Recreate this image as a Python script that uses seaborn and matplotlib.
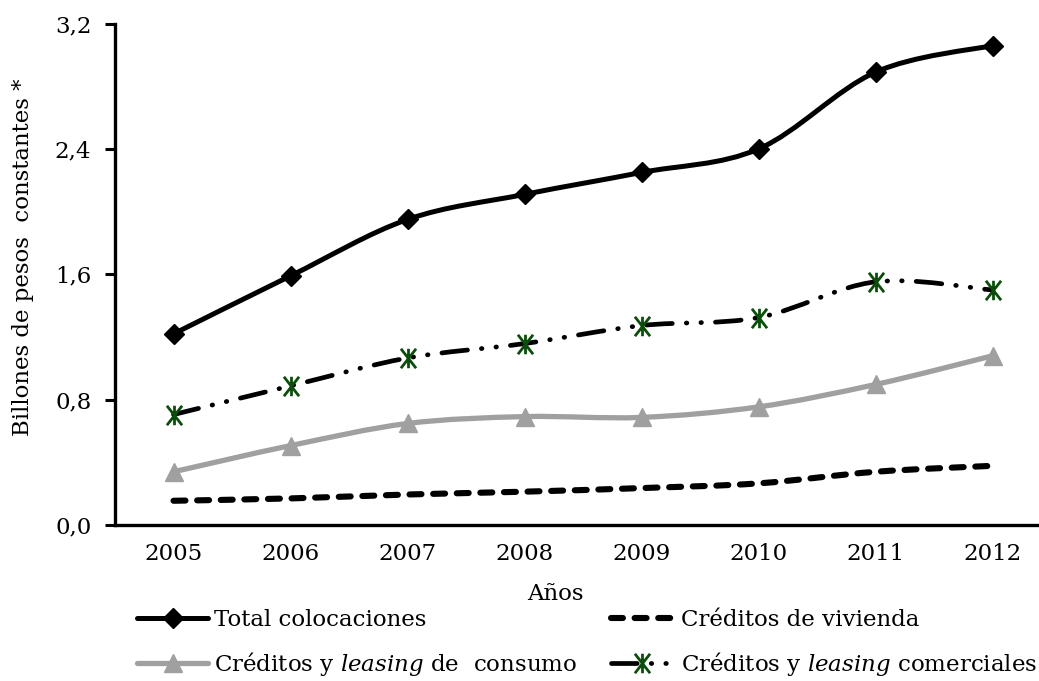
import numpy as np
import matplotlib
matplotlib.use('Agg')
import matplotlib.pyplot as plt
import seaborn as sns
from matplotlib.path import Path
from matplotlib.patches import PathPatch
from matplotlib.lines import Line2D
from matplotlib.ticker import FuncFormatter

# Data (billones de pesos constantes)
years = ['2005', '2006', '2007', '2008', '2009', '2010', '2011', '2012']
total = [1.22, 1.59, 1.95, 2.11, 2.25, 2.40, 2.89, 3.06]
vivienda = [0.155, 0.170, 0.195, 0.213, 0.236, 0.266, 0.340, 0.378]
consumo = [0.340, 0.507, 0.648, 0.692, 0.687, 0.754, 0.897, 1.080]
comerciales = [0.705, 0.888, 1.066, 1.158, 1.273, 1.324, 1.552, 1.500]
yticks = [0.0, 0.8, 1.6, 2.4, 3.2]

sns.set_style('white')
plt.rcParams['font.family'] = ['DejaVu Serif']
plt.rcParams['mathtext.fontset'] = 'dejavuserif'
plt.rcParams['lines.scale_dashes'] = False
plt.rcParams['text.color'] = 'black'
plt.rcParams['axes.labelcolor'] = 'black'
plt.rcParams['xtick.color'] = 'black'
plt.rcParams['ytick.color'] = 'black'
FS = 16.5

GREEN = '#0b4d0b'
GRAY = '#a0a0a0'

# asterisk marker like the excel "star"
star = Path([(0, -1), (0, 1), (-0.78, -1), (0.78, 1), (-0.78, 1), (0.78, -1)],
            [Path.MOVETO, Path.LINETO] * 3)

DASH_VIV = (0, (8.6, 8.4))
DASH_COM = (0, (18.5, 10.1, 0.4, 10.1, 0.4, 10.1))


def smooth_path(xs, ys):
    # excel-style smoothed line (cubic bezier through the points)
    pts = np.column_stack([xs, ys]).astype(float)
    n = len(pts)
    verts = [pts[0]]
    codes = [Path.MOVETO]
    for i in range(n - 1):
        p0 = pts[i - 1] if i > 0 else pts[i]
        p1, p2 = pts[i], pts[i + 1]
        p3 = pts[i + 2] if i + 2 < n else pts[i + 1]
        verts += [p1 + (p2 - p0) / 6, p2 - (p3 - p1) / 6, p2]
        codes += [Path.CURVE4] * 3
    return Path(verts, codes)


fig = plt.figure(figsize=(10.39, 6.81), dpi=100)
ax = fig.add_axes([0.1107, 0.229, 0.9009, 0.7364])
xpos = np.arange(len(years))

series = [
    (total, 'black', 3.6, '-', 'D', 10.5, 'black', 1.0),
    (vivienda, 'black', 4.4, DASH_VIV, None, 0, 'black', 0),
    (consumo, GRAY, 3.8, '-', '^', 13, GRAY, 1.0),
    (comerciales, 'black', 3.4, DASH_COM, star, 14, GREEN, 2.0),
]
for vals, col, lw, ls, mk, ms, mcol, mew in series:
    patch = PathPatch(smooth_path(xpos, vals), facecolor='none', edgecolor=col,
                      linewidth=lw, linestyle=ls, capstyle='round', joinstyle='round', zorder=2)
    ax.add_patch(patch)
    if mk is not None:
        sns.lineplot(x=xpos, y=vals, ax=ax, linestyle='none', marker=mk, markersize=ms,
                     color=mcol, markerfacecolor=mcol, markeredgecolor=mcol,
                     markeredgewidth=mew, zorder=3)

ax.set_xlim(-0.5, 7.5)
ax.set_ylim(0, 3.2)
ax.set_yticks(yticks)
ax.yaxis.set_major_formatter(FuncFormatter(lambda v, p: f'{v:.1f}'.replace('.', ',')))
ax.set_xticks(xpos)
ax.set_xticklabels(years)
ax.set_xticks(np.arange(-0.5, 7.6, 1), minor=True)
ax.tick_params(axis='x', which='major', length=0, pad=13, labelsize=FS)
ax.tick_params(axis='x', which='minor', length=6, width=2.2, direction='out', color='black')
ax.tick_params(axis='y', length=7, width=2.2, direction='out', pad=10, labelsize=FS, color='black', left=True)

for s in ['top', 'right']:
    ax.spines[s].set_visible(False)
for s in ['left', 'bottom']:
    ax.spines[s].set_linewidth(2.4)
    ax.spines[s].set_color('black')

ax.set_xlabel('Años', fontsize=FS)
ax.xaxis.set_label_coords(0.470, -0.115)
ax.set_ylabel('Billones de pesos  constantes *', fontsize=FS, va='center')
ax.yaxis.set_label_coords(-0.098, 0.534)

h_total = Line2D([], [], color='black', lw=3.6, marker='D', ms=10.5)
h_viv = Line2D([], [], color='black', lw=4.4, ls=DASH_VIV, dash_capstyle='round')
h_con = Line2D([], [], color=GRAY, lw=3.8, marker='^', ms=13)
h_com = Line2D([], [], color='black', lw=3.4, ls=DASH_COM, dash_capstyle='round',
               marker=star, ms=14, markeredgecolor=GREEN, markeredgewidth=2.0)

leg1 = fig.legend([h_total, h_con], ['Total colocaciones', r'Créditos y $\it{leasing}$ de  consumo'],
                  loc='center left', bbox_to_anchor=(137 / 1039, 1 - 643.5 / 681), frameon=False,
                  fontsize=FS, handlelength=3.1, handletextpad=0.25, labelspacing=0.8,
                  borderpad=0, borderaxespad=0, numpoints=1)
leg2 = fig.legend([h_viv, h_com], ['Créditos de vivienda', r'Créditos y $\it{leasing}$ comerciales'],
                  loc='center left', bbox_to_anchor=(611 / 1039, 1 - 643.5 / 681), frameon=False,
                  fontsize=FS, handlelength=2.7, handletextpad=0.35, labelspacing=0.8,
                  borderpad=0, borderaxespad=0, numpoints=1)

fig.savefig('out.png', dpi=100)
